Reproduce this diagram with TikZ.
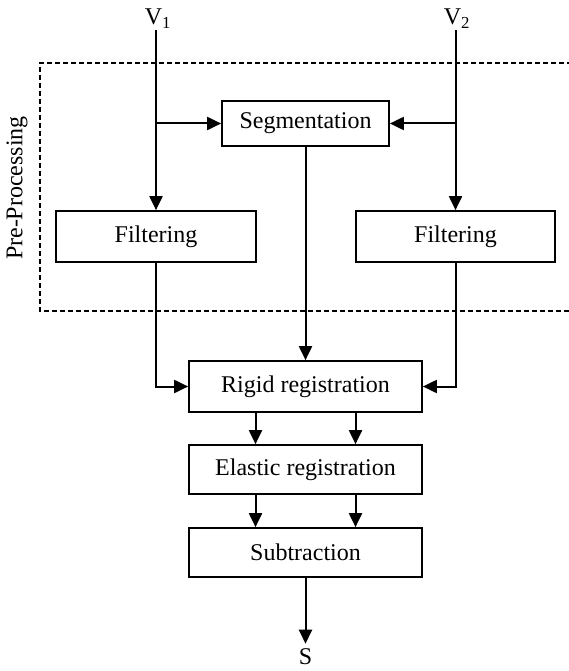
\documentclass[tikz,border=0pt]{standalone}
\usepackage{fontspec}
\setmainfont{Liberation Serif}
\usetikzlibrary{arrows.meta}
\begin{document}
\begin{tikzpicture}[x=1pt,y=-1pt,
  box/.style={draw,line width=1.7pt,inner sep=0pt,font=\fontsize{24}{28}\selectfont},
  arr/.style={line width=2pt,-{Triangle[length=14pt,width=13pt]}},
  lbl/.style={inner sep=1pt,font=\fontsize{24}{28}\selectfont}]
\useasboundingbox (0,0) rectangle (569,671);
\begin{scope}
\clip (0,0) rectangle (569,671);
\draw[line width=1.7pt,dash pattern=on 5pt off 3pt] (580,63) -- (40,63) -- (40,311) -- (580,311);
\end{scope}
\node[lbl,rotate=90] (pre) at (17,188) {Pre-Processing};
\node[lbl] (v1) at (158,19) {V\textsubscript{1}};
\node[lbl] (v2) at (457,19) {V\textsubscript{2}};
\node[box,minimum width=167pt,minimum height=45pt] (seg) at (305.5,123.5) {Segmentation};
\node[box,minimum width=200pt,minimum height=51pt] (fl) at (156,236.5) {Filtering};
\node[box,minimum width=199pt,minimum height=51pt] (fr) at (455.5,236.5) {Filtering};
\node[box,minimum width=233pt,minimum height=51pt] (rig) at (305.5,386.5) {Rigid registration};
\node[box,minimum width=233pt,minimum height=49pt] (ela) at (305.5,469.5) {Elastic registration};
\node[box,minimum width=233pt,minimum height=49pt] (sub) at (305.5,552.5) {Subtraction};
\node[lbl] (s) at (305.5,657) {S};
\coordinate (b1) at (fl.north |- seg.west);
\coordinate (b2) at (fr.north |- seg.east);
\draw[arr] (fl.north |- v1.south) -- (fl.north);
\draw[arr] (fr.north |- v2.south) -- (fr.north);
\draw[arr] (b1) -- (seg.west);
\draw[arr] (b2) -- (seg.east);
\draw[arr] (seg.south) -- (rig.north);
\draw[arr] (fl.south) |- (rig.west);
\draw[arr] (fr.south) |- (rig.east);
\draw[arr] ([xshift=-50pt]rig.south) -- ([xshift=-50pt]ela.north);
\draw[arr] ([xshift=50pt]rig.south) -- ([xshift=50pt]ela.north);
\draw[arr] ([xshift=-50pt]ela.south) -- ([xshift=-50pt]sub.north);
\draw[arr] ([xshift=50pt]ela.south) -- ([xshift=50pt]sub.north);
\draw[arr,shorten >=4pt] (sub.south) -- (s.north);
\end{tikzpicture}
\end{document}
